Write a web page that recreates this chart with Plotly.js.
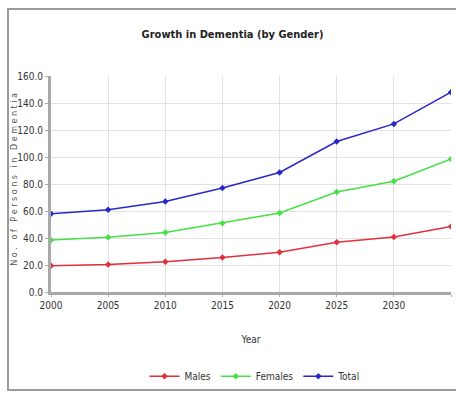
<!DOCTYPE html>
<html><head><meta charset="utf-8">
<script src="https://cdn.plot.ly/plotly-3.0.1.min.js"></script>
<style>
body{margin:0;padding:0;background:#fff;}
#wrap{position:relative;width:456px;height:396px;overflow:hidden;}
#chart{width:456px;height:396px;}
#frame{position:absolute;left:7px;top:8px;width:460px;height:383px;border:2px solid #9a9a9a;pointer-events:none;box-sizing:border-box;}
</style></head>
<body><div id="wrap"><div id="chart"></div><div id="frame"></div></div>
<script>
const years = [2000, 2005, 2010, 2015, 2020, 2025, 2030, 2035];
const males = [19.5, 20.3, 22.5, 25.5, 29.5, 36.8, 40.8, 48.5];
const females = [38.5, 40.5, 44.0, 51.0, 58.5, 74.0, 82.0, 98.5];
const total = [58.0, 61.0, 67.0, 77.0, 88.5, 111.5, 124.5, 148.0];
const yTicks = [0, 20, 40, 60, 80, 100, 120, 140, 160];
const yTickText = ['0.0', '20.0', '40.0', '60.0', '80.0', '100.0', '120.0', '140.0', '160.0'];
const yTitle = 'No. of Persons in Dementia';

const F = '"Liberation Sans Narrow", "Arial Narrow", "DejaVu Sans Condensed", sans-serif';
function tr(name, y, color) {
  return {x: years, y: y, name: name, type: 'scatter', mode: 'lines+markers',
    line: {color: color, width: 1.5}, marker: {color: color, size: 5, symbol: 'diamond'}};
}
const data = [tr('Males', males, '#e0303c'), tr('Females', females, '#44e044'), tr('Total', total, '#2828c8')];
const spaced = yTitle.split('').join(' ');
const layout = {
  width: 456, height: 396,
  margin: {l: 51, r: 5, t: 76, b: 104},
  paper_bgcolor: '#fff', plot_bgcolor: '#fff',
  title: {text: 'Growth in Dementia (by Gender)', x: 0.51, xanchor: 'center', y: 0.915, yanchor: 'middle',
    font: {family: F, size: 11, color: '#222', weight: 'bold'}},
  xaxis: {range: [2000, 2035], tickvals: years, ticktext: years.map(String),
    showgrid: true, gridcolor: '#e2e2e2', gridwidth: 1, zeroline: false,
    showline: true, linecolor: '#a8a8a8', linewidth: 3,
    ticks: 'outside', ticklen: 2, tickcolor: '#a8a8a8',
    tickfont: {family: F, size: 10, color: '#333'},
    title: {text: 'Year', standoff: 26, font: {family: F, size: 10, color: '#333'}}},
  yaxis: {range: [0, 160], tickvals: yTicks, ticktext: yTickText,
    showgrid: true, gridcolor: '#e2e2e2', gridwidth: 1, zeroline: false,
    showline: true, linecolor: '#a8a8a8', linewidth: 3,
    ticks: 'outside', ticklen: 3, tickcolor: '#a8a8a8',
    tickfont: {family: F, size: 10, color: '#333'}},
  annotations: [{text: spaced, xref: 'paper', yref: 'paper', x: -0.09, y: 0.52,
    xanchor: 'center', yanchor: 'middle', textangle: -90, showarrow: false,
    font: {family: 'DejaVu Sans, sans-serif', size: 8, color: '#555'}}],
  legend: {orientation: 'h', x: 0.51, xanchor: 'center', y: -0.39, yanchor: 'middle',
    font: {family: F, size: 10, color: '#333'}, itemwidth: 30, tracegroupgap: 0},
  showlegend: true
};
Plotly.newPlot('chart', data, layout, {displayModeBar: false, staticPlot: true});
</script></body></html>
